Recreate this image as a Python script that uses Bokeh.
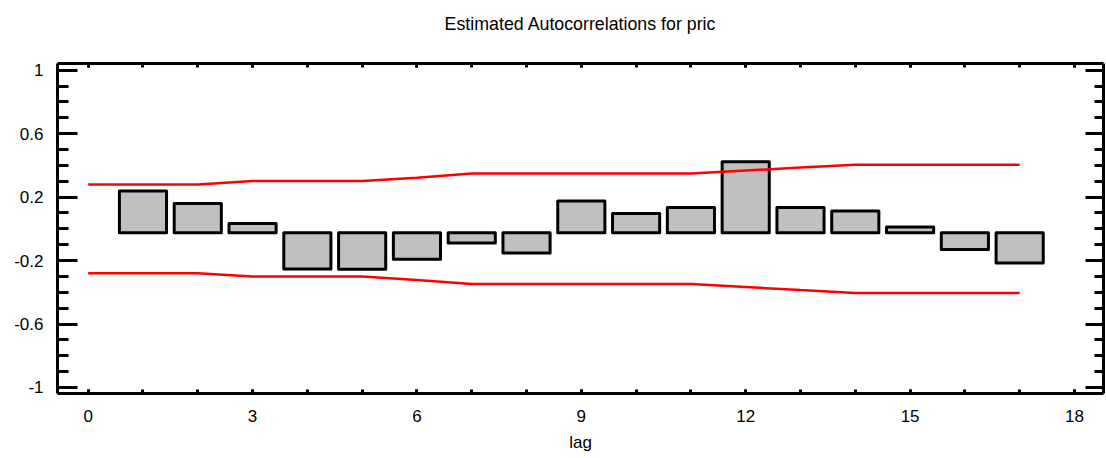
from bokeh.plotting import figure
from bokeh.models import (LinearAxis, FixedTicker, CustomJSTickFormatter, Range1d,
                          ColumnDataSource)
from bokeh.embed import file_html
from bokeh.resources import INLINE

# Estimated autocorrelations of "pric" by lag
lags = list(range(1, 18))
acf = [0.238, 0.159, 0.033, -0.253, -0.255, -0.192, -0.089, -0.152, 0.175,
       0.096, 0.134, 0.423, 0.134, 0.112, 0.011, -0.131, -0.215]

# 95% probability limits, evaluated at lags 0..17
limit_lags = list(range(0, 18))
upper_limit = [0.280, 0.280, 0.280, 0.301, 0.301, 0.301, 0.322, 0.348, 0.348,
               0.348, 0.348, 0.348, 0.367, 0.386, 0.404, 0.404, 0.404, 0.404]
lower_limit = [-v for v in upper_limit]

x_major = [0, 3, 6, 9, 12, 15, 18]
x_minor = list(range(0, 19))
y_major = [-1, -0.6, -0.2, 0.2, 0.6, 1]
y_minor = [round(-1 + 0.1 * i, 1) for i in range(21)]

FONT = "Liberation Sans"
BASE = -0.025  # bar baseline

p = figure(frame_width=1046, frame_height=330,
           x_range=Range1d(-0.56, 18.53), y_range=Range1d(-1.038, 1.042),
           output_backend="svg", toolbar_location=None,
           x_axis_location=None, y_axis_location=None,
           min_border_left=57, min_border_right=3,
           min_border_top=63, min_border_bottom=65)
p.title.text = ""
p.outline_line_color = None
p.xgrid.visible = False
p.ygrid.visible = False
p.background_fill_color = "white"
p.border_fill_color = "white"

fmt = CustomJSTickFormatter(code="return String(Math.round(tick * 10) / 10);")


def style_axis(ax, major_in, minor_in, labels):
    ax.axis_line_width = 3
    ax.axis_line_color = "black"
    ax.major_tick_line_width = 3
    ax.minor_tick_line_width = 3
    ax.major_tick_line_color = "black"
    ax.minor_tick_line_color = "black"
    ax.major_tick_in = major_in
    ax.major_tick_out = 0
    ax.minor_tick_in = minor_in
    ax.minor_tick_out = 0
    ax.formatter = fmt
    if labels:
        ax.major_label_text_font = FONT
        ax.major_label_text_font_size = "17px"
        ax.major_label_text_color = "black"
    else:
        ax.major_label_text_font_size = "0px"
        ax.major_label_text_alpha = 0


left = LinearAxis(ticker=FixedTicker(ticks=y_major, minor_ticks=y_minor))
style_axis(left, 20, 11, True)
left.major_label_standoff = 14
p.add_layout(left, "left")

right = LinearAxis(ticker=FixedTicker(ticks=y_major, minor_ticks=y_minor))
style_axis(right, 18, 9, False)
p.add_layout(right, "right")

below = LinearAxis(ticker=FixedTicker(ticks=x_major, minor_ticks=x_minor),
                   axis_label="lag")
style_axis(below, 4, 4, True)
below.major_label_standoff = 16
below.axis_label_text_font = FONT
below.axis_label_text_font_size = "17px"
below.axis_label_text_font_style = "normal"
below.axis_label_text_color = "black"
below.axis_label_standoff = 8
p.add_layout(below, "below")

# Top axis carries the chart heading as its label
above = LinearAxis(ticker=FixedTicker(ticks=x_major, minor_ticks=x_minor),
                   axis_label="Estimated Autocorrelations for pric")
style_axis(above, 4, 4, False)
above.major_label_standoff = 0
above.axis_label_text_font = FONT
above.axis_label_text_font_size = "17.8px"
above.axis_label_text_font_style = "normal"
above.axis_label_text_color = "black"
above.axis_label_standoff = 30
p.add_layout(above, "above")

bars = ColumnDataSource(dict(lag=lags, top=acf, bottom=[BASE] * len(acf)))
p.vbar(x="lag", top="top", bottom="bottom", width=0.86, source=bars,
       fill_color="#C0C0C0", line_color="black", line_width=3, line_join="round")

p.line(limit_lags, upper_limit, line_color="#FF0000", line_width=2.5)
p.line(limit_lags, lower_limit, line_color="#FF0000", line_width=2.5)

open("out.html", "w").write(file_html(p, INLINE))
